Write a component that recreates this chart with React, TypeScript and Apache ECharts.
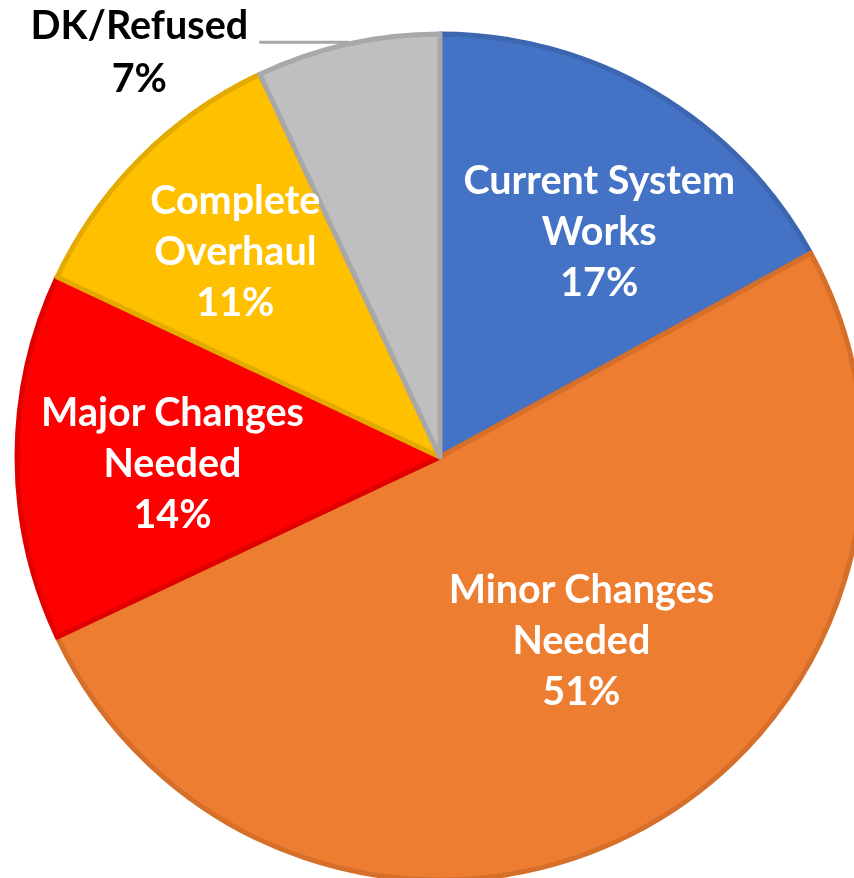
import React, { useEffect, useRef } from "react";
import * as echarts from "echarts";

const categories = [
  "Current System Works",
  "Minor Changes Needed",
  "Major Changes Needed",
  "Complete Overhaul",
  "DK/Refused",
];
const labelLines = [
  "Current System\nWorks",
  "Minor Changes\nNeeded",
  "Major Changes\nNeeded",
  "Complete\nOverhaul",
  "DK/Refused",
];
const values = [17, 51, 14, 11, 7];
const fills = ["#4472C4", "#ED7D31", "#FF0000", "#FFC000", "#BFBFBF"];
const edges = ["#3D66B0", "#D66F2A", "#E00000", "#E3AA00", "#A8A8A8"];
const labelOffsets: [number, number][] = [
  [50, -43],
  [44, -10],
  [-53, 4],
  [-53, -56],
  [0, 0],
];

export default function App() {
  const ref = useRef<HTMLDivElement>(null);
  useEffect(() => {
    document.body.style.margin = "0";
    const chart = echarts.init(ref.current!, undefined, { renderer: "svg" });
    const font = "Lato, 'Open Sans', sans-serif";
    const data = categories.map((name, i) => {
      const outside = i === 4;
      return {
        name,
        value: values[i],
        itemStyle: { color: fills[i], borderColor: edges[i], borderWidth: 5 },
        label: outside
          ? {
              position: "outside",
              color: "#000",
              formatter: `{a|${labelLines[i]}}\n{a|${values[i]}%}`,
              padding: [16, 0, 0, 0],
              rich: {
                a: {
                  width: 230,
                  align: "center",
                  fontFamily: font,
                  fontWeight: "bold",
                  fontSize: 39.5,
                  lineHeight: 53,
                  color: "#000",
                },
              },
            }
          : {
              position: "inside",
              offset: labelOffsets[i],
              formatter: `${labelLines[i]}\n${values[i]}%`,
            },
        labelLine: outside
          ? {
              show: true,
              length: 2,
              length2: 88,
              lineStyle: { color: "#A6A6A6", width: 3 },
            }
          : { show: false },
      };
    });
    chart.setOption({
      animation: false,
      series: [
        {
          type: "pie",
          center: [440, 457],
          radius: 423,
          startAngle: 90,
          clockwise: true,
          avoidLabelOverlap: false,
          label: {
            color: "#fff",
            fontFamily: font,
            fontWeight: "bold",
            fontSize: 39.5,
            lineHeight: 51,
            align: "center",
          },
          data,
        },
      ],
    });
    return () => chart.dispose();
  }, []);
  return (
    <div
      ref={ref}
      style={{ position: "fixed", left: 0, top: 0, width: 854, height: 878 }}
    />
  );
}
